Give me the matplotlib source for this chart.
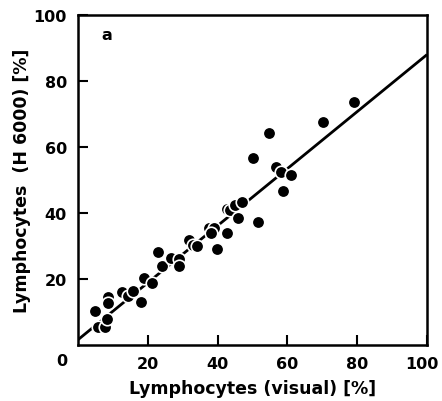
import matplotlib
matplotlib.use("Agg")
import matplotlib.pyplot as plt
import matplotlib.transforms as mtransforms
import numpy as np

# Data
x_visual = [5.0, 8.6, 8.6, 5.7, 7.6, 8.4, 12.7, 14.3, 15.8, 18.1, 18.9, 21.2,
            22.9, 24.1, 26.7, 28.9, 28.9, 31.7, 33.0, 34.1, 37.4, 38.9, 38.1,
            39.8, 42.7, 42.7, 43.6, 45.0, 47.0, 45.8, 50.0, 51.7, 54.7, 56.8,
            58.1, 58.7, 61.0, 70.1, 79.0]
y_h6000 = [10.2, 14.4, 12.7, 5.6, 5.6, 8.0, 16.2, 14.7, 16.5, 13.0, 20.2, 18.7,
           28.1, 23.8, 26.5, 26.0, 24.0, 31.8, 30.3, 30.1, 35.4, 35.4, 33.8,
           29.1, 34.0, 41.2, 40.9, 42.4, 43.2, 38.6, 56.7, 37.4, 64.2, 54.0,
           52.3, 46.6, 51.5, 67.6, 73.6]
fit_x = [0, 100]
fit_y = [1.6, 88.0]

xticks = [20, 40, 60, 80, 100]
yticks = [20, 40, 60, 80, 100]

fig = plt.figure(figsize=(4.42, 4.02), dpi=100)
ax = fig.add_axes([78/442, 1-346/402, 349/442, 330/402])

ax.plot(fit_x, fit_y, color="black", lw=2.0, zorder=2, solid_capstyle="butt")
ax.plot(x_visual, y_h6000, "o", color="black", ms=9.0, mec="white", mew=1.2,
        zorder=3, linestyle="none")

ax.set_xlim(0, 100)
ax.set_ylim(0, 100)
ax.set_xticks(xticks)
ax.set_yticks(yticks)
fs = 11.5
ax.set_xticklabels([str(v) for v in xticks], fontsize=fs, fontweight="bold")
ax.set_yticklabels([str(v) for v in yticks], fontsize=fs, fontweight="bold")
ax.tick_params(direction="in", length=7, width=1.5, pad=8)
for s in ax.spines.values():
    s.set_linewidth(1.8)

# nudge the "100" x tick label left so it stays inside the figure
last = ax.get_xticklabels()[-1]
last.set_transform(last.get_transform() +
                   mtransforms.ScaledTranslation(-5/100, 0, fig.dpi_scale_trans))

fig.text(62/442, 1-362/402, "0", fontsize=fs, fontweight="bold",
         ha="center", va="center")
ax.text(8.3, 94, "a", fontsize=fs, fontweight="bold", ha="center", va="center")

ax.set_xlabel("Lymphocytes (visual) [%]", fontsize=12.5, fontweight="bold",
              labelpad=6)
ax.set_ylabel("Lymphocytes  (H 6000) [%]", fontsize=12.5, fontweight="bold",
              labelpad=2)

fig.savefig("out.png", dpi=100)
